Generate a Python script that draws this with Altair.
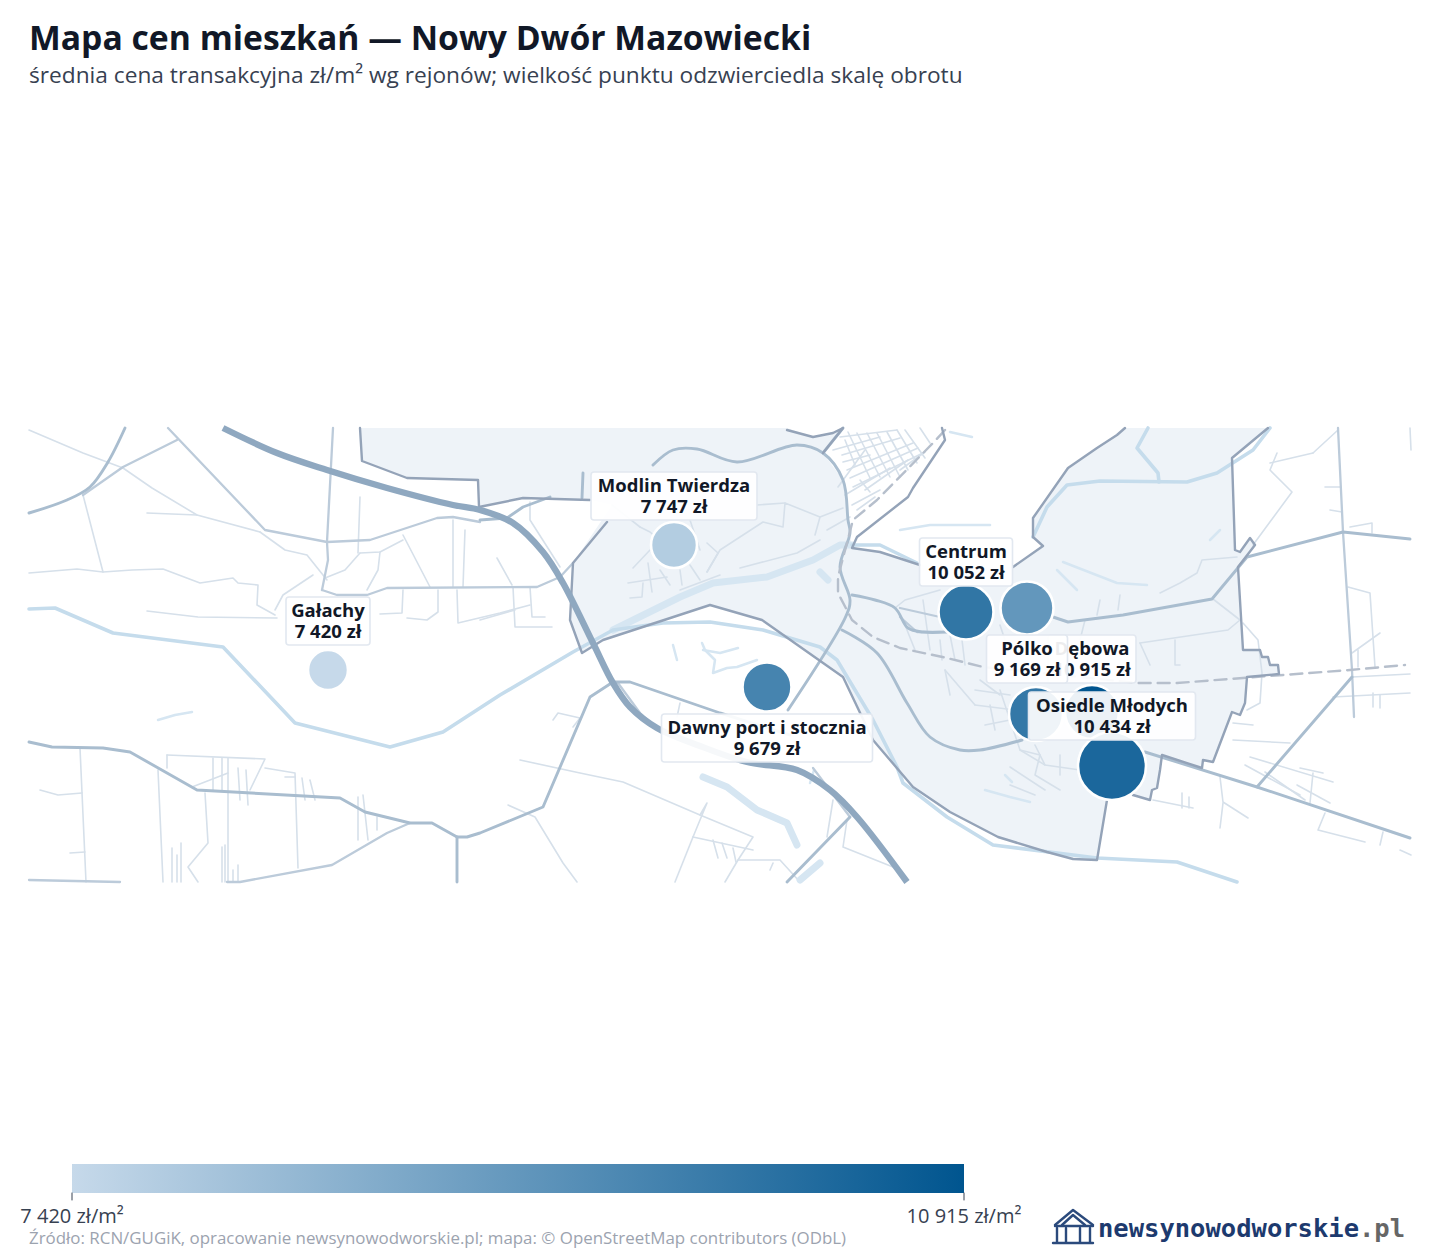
import altair as alt
import pandas as pd

TITLE = "Mapa cen mieszkań — Nowy Dwór Mazowiecki"
SUBTITLE = "średnia cena transakcyjna zł/m² wg rejonów; wielkość punktu odzwierciedla skalę obrotu"
SOURCE = "Źródło: RCN/GUGiK, opracowanie newsynowodworskie.pl; mapa: © OpenStreetMap contributors (ODbL)"
FONT = "Open Sans"

# districts: drawn in order, so later labels sit on top of earlier ones
names = ["", "Gałachy", "Modlin Twierdza", "Dawny port i stocznia", "Centrum", "Dębowa", "Pólko", "Osiedle Młodych"]
prices = [10000, 7420, 7747, 9679, 10052, 10915, 9169, 10434]
point_x = [1036, 328, 674, 767, 966, 1092, 1027, 1112]
point_y = [714, 670, 545, 687, 612, 712, 608, 766]
point_d = [54, 40, 46, 49, 55, 54, 53, 68]
label_y = [0, 621, 496, 738, 562, 659, 659, 716]
label_w = [0, 84, 166, 211, 93, 88, 81, 167]

# map geometry in map units
district = [(360, 428), (787, 428), (813, 437), (833, 433), (842, 428), (823, 453), (843, 480), (848, 520), (852, 548),
            (880, 552), (920, 565), (1013, 567), (1043, 546), (1033, 537), (1033, 518), (1068, 468), (1097, 448),
            (1117, 435), (1125, 428), (1268, 428), (1232, 458), (1235, 550), (1240, 552), (1250, 538), (1255, 545),
            (1238, 567), (1243, 650), (1260, 650), (1262, 657), (1268, 657), (1270, 665), (1278, 665), (1279, 674),
            (1247, 677), (1245, 703), (1240, 715), (1232, 712), (1213, 762), (1203, 760), (1202, 768), (1162, 755),
            (1160, 770), (1157, 788), (1152, 790), (1150, 800), (1133, 795), (1107, 800), (1097, 860), (1073, 859),
            (1047, 852), (998, 837), (950, 812), (913, 787), (873, 740), (843, 677), (762, 620), (710, 605), (603, 640),
            (582, 653), (570, 620), (573, 563), (612, 505), (590, 500), (523, 498), (479, 507), (478, 480), (407, 478),
            (362, 461)]

boundary = [
    [(360, 428), (362, 461), (407, 478), (478, 480), (479, 507), (523, 498), (590, 500)],
    [(607, 522), (573, 563), (570, 620), (582, 653), (603, 640), (710, 605), (762, 620), (843, 677), (873, 740),
     (913, 787), (950, 812), (998, 837), (1047, 852), (1073, 859), (1097, 860), (1107, 800)],
    [(1133, 795), (1150, 800), (1152, 790), (1157, 788), (1160, 770), (1162, 755), (1202, 768), (1203, 760), (1213, 762),
     (1232, 712), (1240, 715), (1245, 703), (1247, 677), (1279, 674), (1278, 665), (1270, 665), (1268, 657), (1262, 657),
     (1260, 650), (1243, 650), (1238, 567), (1255, 545), (1250, 538), (1240, 552), (1235, 550), (1232, 458), (1268, 428)],
    [(1125, 428), (1117, 435), (1097, 448), (1068, 468), (1033, 518), (1033, 537), (1043, 546), (1013, 567)],
    [(920, 565), (880, 552), (852, 548), (857, 537), (908, 497), (913, 488), (945, 440), (942, 428)],
    [(787, 430), (813, 437), (833, 433), (843, 428), (823, 453)],
]

rivers = [
    [(29, 609), (55, 608), (113, 633), (223, 647), (295, 723), (390, 747), (443, 732), (500, 695), (573, 652),
     (613, 630), (663, 623), (710, 622), (763, 630), (820, 647), (837, 660), (873, 720), (897, 767), (903, 783),
     (947, 817), (993, 845), (1097, 858), (1177, 862), (1237, 882)],
    [(1033, 537), (1047, 507), (1067, 485), (1100, 481), (1187, 482), (1217, 473), (1253, 450), (1270, 428)],
    [(1148, 428), (1137, 448), (1158, 473), (1159, 482)],
    [(852, 545), (880, 545), (917, 563)],
]
river_wide = [
    [(613, 630), (680, 597), (713, 583), (767, 577), (813, 560), (840, 545), (852, 545)],
    [(703, 777), (727, 787), (757, 810), (787, 823), (797, 845)],
    [(820, 863), (800, 880)],
    [(820, 572), (828, 580)],
]
streams = [
    [(1057, 570), (1077, 590)], [(1063, 562), (1117, 583), (1147, 585)],
    [(702, 643), (705, 650), (715, 660), (713, 673), (727, 668), (737, 667), (757, 660)],
    [(703, 650), (720, 653), (738, 648)], [(673, 645), (677, 660)], [(950, 432), (972, 437)],
    [(158, 720), (175, 715), (192, 712)], [(1210, 540), (1220, 530)], [(1005, 775), (1012, 782)],
    [(985, 790), (1010, 797), (1030, 802)], [(900, 530), (930, 525), (990, 525)],
    [(810, 783), (814, 770)],
]

motorway = [
    [(223, 428), (277, 453), (327, 470), (387, 488), (453, 505), (480, 510), (513, 523), (543, 552), (563, 583),
     (593, 643), (613, 683), (630, 707), (657, 728), (700, 746), (747, 762), (797, 770), (830, 790), (857, 817), (907, 882)],
]
main_roads = [
    [(29, 742), (52, 747), (103, 748), (130, 752), (197, 790), (340, 798), (365, 812), (410, 823), (432, 823),
     (457, 837), (467, 837), (480, 833), (543, 807), (590, 697), (613, 682), (630, 682), (720, 713), (790, 735)],
    [(457, 837), (457, 882)],
    [(1145, 752), (1257, 787), (1410, 838)],
    [(1053, 617), (1068, 622), (1123, 615), (1212, 599), (1247, 557), (1343, 532), (1410, 539)],
    [(480, 520), (507, 518), (523, 507), (550, 497)],
    [(583, 473), (582, 498)],
    [(850, 817), (787, 882)],
    [(1257, 787), (1352, 677)],
    [(823, 453), (843, 428)],
]
curved_roads = [
    [(29, 513), (67, 500), (90, 487), (108, 462), (125, 428)],
    [(653, 465), (673, 450), (697, 449), (737, 462), (797, 445), (823, 453), (843, 480), (848, 520), (850, 533),
     (840, 567), (850, 600), (846, 616), (788, 710)],
    [(852, 595), (875, 600), (895, 608), (908, 628), (923, 632), (947, 632)],
    [(842, 630), (877, 653), (907, 703), (930, 737), (960, 750), (980, 750), (1022, 740)],
]
minor_roads = [
    [(168, 428), (265, 530), (327, 542), (370, 540), (437, 518), (453, 517), (480, 522)],
    [(333, 428), (327, 542), (328, 560), (322, 590)],
    [(322, 590), (337, 595), (367, 595), (387, 588), (537, 587), (560, 577), (573, 563)],
    [(83, 495), (123, 467), (177, 440)],
    [(227, 882), (240, 882), (332, 865), (387, 833), (410, 823)],
    [(29, 880), (120, 882)],
    [(1338, 428), (1343, 532), (1352, 670), (1354, 717)],
    [(618, 683), (640, 713), (657, 728)],
    [(900, 608), (940, 617)], [(900, 617), (917, 632), (940, 632)],
    [(813, 768), (850, 817)],
]
streets = [
    [(29, 430), (83, 453), (123, 468), (152, 488), (197, 515), (260, 532)],
    [(83, 495), (103, 572)],
    [(29, 573), (77, 569), (103, 572), (132, 570), (163, 569), (200, 583), (233, 578), (238, 583), (258, 585), (257, 605), (275, 615)],
    [(147, 611), (198, 617), (277, 618)],
    [(275, 610), (283, 595), (313, 575)],
    [(147, 513), (197, 515)], [(260, 532), (285, 550), (307, 555), (327, 580)],
    [(360, 553), (380, 552), (403, 540)], [(380, 552), (378, 570), (367, 590)], [(360, 553), (345, 570), (325, 578)],
    [(403, 535), (430, 587)], [(453, 520), (453, 587)], [(465, 530), (463, 587)], [(360, 497), (358, 553)],
    [(403, 590), (402, 613), (380, 614)], [(438, 590), (438, 612), (427, 620), (407, 618)],
    [(457, 590), (458, 623), (500, 613), (530, 605)],
    [(80, 748), (86, 882)], [(158, 770), (163, 882)], [(167, 755), (167, 768)], [(167, 755), (265, 759), (250, 790)],
    [(265, 768), (295, 773), (298, 868)],
    [(213, 758), (213, 790)], [(222, 758), (222, 790)], [(228, 758), (228, 882)], [(238, 768), (240, 800)], [(246, 770), (248, 805)],
    [(205, 793), (208, 843), (188, 867), (198, 882)],
    [(172, 848), (172, 882)], [(177, 855), (177, 882)], [(181, 843), (181, 882)], [(222, 847), (222, 882)], [(225, 845), (225, 882)], [(233, 870), (233, 882)], [(238, 865), (238, 882)],
    [(358, 797), (358, 840)], [(363, 795), (368, 840)], [(377, 817), (377, 830)],
    [(40, 790), (58, 795), (82, 793)], [(192, 787), (228, 773)], [(70, 853), (85, 852)],
    [(302, 778), (305, 800)], [(285, 777), (295, 777)], [(310, 780), (315, 800)],
    [(520, 760), (580, 773), (623, 782), (700, 815), (753, 837), (738, 860), (725, 882)],
    [(693, 837), (707, 803), (700, 815)], [(693, 837), (753, 850)], [(693, 837), (675, 882)],
    [(508, 805), (535, 817), (563, 863), (577, 882)],
    [(553, 720), (558, 713), (580, 718), (573, 727)],
    [(680, 703), (677, 717)], [(833, 800), (827, 837)], [(847, 820), (843, 847), (893, 867)], [(773, 863), (770, 870)],
    [(800, 882), (780, 860), (738, 860)], [(713, 840), (718, 858)], [(722, 843), (727, 858)], [(733, 848), (736, 862)],
    # Modlin
    [(530, 502), (530, 520), (560, 567)], [(497, 558), (512, 585)], [(513, 587), (515, 627), (552, 627)],
    [(530, 587), (532, 617), (545, 617)], [(480, 620), (515, 610)],
    [(633, 568), (650, 550)], [(628, 583), (667, 577)], [(643, 583), (642, 597), (630, 598)], [(648, 563), (652, 592)],
    [(680, 570), (682, 585)], [(640, 527), (650, 532), (665, 545)], [(690, 520), (700, 550)], [(707, 543), (718, 553), (707, 572)],
    [(707, 572), (720, 550), (763, 522), (783, 527), (785, 503), (820, 517), (843, 508)], [(757, 505), (785, 503)],
    [(740, 568), (797, 553), (820, 540)], [(827, 530), (850, 517)], [(820, 517), (815, 535)], [(680, 590), (720, 575)],
    [(612, 505), (640, 527)], [(660, 570), (670, 585)], [(690, 565), (700, 580)],
    # town north of the river
    [(833, 450), (880, 437)], [(847, 470), (913, 443)], [(853, 487), (923, 453)], [(840, 437), (897, 430)],
    [(857, 433), (880, 477)], [(877, 433), (900, 477)], [(897, 430), (917, 463)], [(920, 428), (930, 443)],
    [(838, 487), (865, 450)], [(852, 505), (880, 490)], [(865, 490), (908, 460)], [(843, 462), (870, 455)],
    [(857, 510), (875, 497)], [(900, 470), (925, 452)], [(845, 440), (855, 465)],
    [(842, 455), (900, 438)], [(850, 478), (918, 448)], [(867, 433), (890, 477)], [(887, 432), (908, 470)],
    [(848, 432), (870, 478)], [(845, 495), (890, 468)], [(905, 430), (925, 458)], [(860, 480), (870, 492)],
    # town south of the river
    [(895, 608), (905, 600), (940, 590)], [(923, 600), (930, 650)], [(905, 625), (915, 650)], [(962, 640), (965, 665)],
    [(945, 670), (975, 705)], [(945, 670), (950, 695)], [(975, 690), (1010, 695)], [(975, 705), (1015, 710)],
    [(1000, 690), (1020, 750), (1045, 765), (1080, 770)], [(985, 725), (1010, 720)], [(1040, 755), (1035, 775), (1060, 790)],
    [(1020, 750), (1040, 755)], [(1045, 765), (1035, 745)], [(1010, 767), (1045, 790)], [(1000, 625), (1005, 640)],
    [(1010, 785), (1035, 795)], [(1060, 755), (1060, 775)], [(940, 640), (942, 660)], [(950, 635), (955, 660)],
    [(980, 680), (1000, 695)], [(990, 705), (995, 730)],
    # east
    [(1140, 643), (1228, 630), (1240, 620), (1213, 599)], [(1160, 593), (1180, 583), (1197, 573), (1202, 560), (1237, 557)],
    [(1120, 595), (1118, 610)], [(1100, 600), (1097, 615)], [(1175, 640), (1175, 665), (1180, 665)], [(1140, 643), (1150, 665)],
    [(1085, 620), (1080, 640)], [(1243, 623), (1258, 640), (1262, 673), (1260, 703), (1247, 710)],
    [(1313, 453), (1270, 463)], [(1277, 453), (1270, 470), (1292, 492), (1253, 545)], [(1313, 453), (1338, 430)],
    [(1325, 487), (1340, 487)], [(1330, 510), (1342, 512)], [(1350, 527), (1372, 523), (1372, 533)],
    [(1348, 587), (1370, 593), (1375, 667)], [(1380, 633), (1352, 653)], [(1358, 650), (1358, 667)],
    [(1352, 677), (1410, 674)], [(1333, 697), (1410, 693)], [(1373, 693), (1373, 707)], [(1380, 695), (1380, 708)],
    [(1250, 757), (1333, 782)], [(1300, 768), (1323, 773)], [(1313, 773), (1310, 803)], [(1297, 785), (1330, 803)],
    [(1233, 740), (1290, 743)], [(1233, 723), (1253, 725)], [(1325, 813), (1318, 830), (1365, 842)], [(1383, 832), (1380, 845)],
    [(1220, 777), (1223, 802), (1248, 818)], [(1223, 803), (1220, 828)], [(1153, 800), (1193, 808)], [(1182, 793), (1182, 808)],
    [(1189, 797), (1189, 808)], [(1400, 850), (1411, 855)], [(1245, 765), (1300, 795)], [(1265, 772), (1305, 800)],
    [(1410, 428), (1411, 450)],
]
railway = [
    [(945, 430), (933, 443), (877, 500), (853, 520), (838, 577), (838, 593), (852, 620), (873, 637), (900, 648),
     (947, 658), (983, 667), (1138, 683), (1177, 683), (1243, 678), (1350, 670), (1405, 665)],
]

# colour bar and logo
bar_prices = [7420, 10915]
bar_labels = ["7 420 zł/m²", "10 915 zł/m²"]
bar_x = [72, 964]
house = [
    [(1055, 1225), (1073, 1210), (1093, 1225)], [(1062, 1225), (1073, 1215), (1085, 1225)], [(1055, 1226), (1093, 1226)],
    [(1057, 1228), (1057, 1242)], [(1066, 1228), (1066, 1242)], [(1080, 1228), (1080, 1242)], [(1090, 1228), (1090, 1242)],
    [(1053, 1243), (1093, 1243)],
]

x_scale = alt.Scale(domain=[8, 1432], nice=False, zero=False)
y_scale = alt.Scale(domain=[1252, 92], nice=False, zero=False)
X = alt.X("x:Q", scale=x_scale, axis=None)
Y = alt.Y("y:Q", scale=y_scale, axis=None)


def lines_frame(lines):
    rows = []
    for i, line in enumerate(lines):
        for j, (px, py) in enumerate(line):
            rows.append({"id": i, "seq": j, "x": px, "y": py})
    return pd.DataFrame(rows)


def line_layer(lines, color, width, cap="round", **kwargs):
    return (
        alt.Chart(lines_frame(lines))
        .mark_line(stroke=color, strokeWidth=width, strokeCap=cap, strokeJoin="round", **kwargs)
        .encode(x=X, y=Y, detail="id:N", order="seq:Q")
    )


def text_layer(rows, font_size, color, weight="normal", align="center", font=FONT, **kwargs):
    return (
        alt.Chart(pd.DataFrame(rows))
        .mark_text(font=font, fontSize=font_size, color=color, fontWeight=weight, align=align, baseline="middle", **kwargs)
        .encode(x=X, y=Y, text="t:N")
    )


def fmt_price(v):
    return f"{v:,}".replace(",", " ") + " zł"


layers = [
    alt.Chart(lines_frame([district + district[:1]]))
    .mark_line(fill="#eef3f8", stroke="#eef3f8", strokeWidth=0)
    .encode(x=X, y=Y, order="seq:Q"),
    line_layer(streets, "#d6e0ea", 1.6),
    line_layer(river_wide, "#d6e6f2", 7),
    line_layer(streams, "#d6e6f2", 2.5),
    line_layer(rivers, "#c5dcec", 3.6),
    line_layer(minor_roads, "#bccbda", 2.3),
    line_layer(main_roads, "#a9bdcf", 2.9),
    line_layer(curved_roads, "#a9bdcf", 2.9, interpolate="catmull-rom"),
    line_layer(railway, "#b6bfcc", 2.4, strokeDash=[12, 7]),
    line_layer(boundary, "#94a3b8", 2.4),
    line_layer(motorway, "#8fa8c0", 6.4, cap="butt", interpolate="catmull-rom"),
]

points = pd.DataFrame({"name": names, "price": prices, "x": point_x, "y": point_y,
                       "size": [d * d for d in point_d]})
layers.append(
    alt.Chart(points)
    .mark_point(filled=True, opacity=1, stroke="white", strokeWidth=2.6)
    .encode(
        x=X,
        y=Y,
        size=alt.Size("size:Q", scale=None),
        color=alt.Color("price:Q", legend=None,
                        scale=alt.Scale(domain=bar_prices, range=["#c6d9ea", "#00558f"], interpolate="rgb")),
        tooltip=["name", "price"],
    )
)

# label boxes, each with its own text so a later box covers an earlier one
for n, p, px, ly, w in zip(names, prices, point_x, label_y, label_w):
    if not n:
        continue
    box = pd.DataFrame([{"x": px - w / 2, "x2": px + w / 2, "y": ly - 24, "y2": ly + 24}])
    layers.append(
        alt.Chart(box)
        .mark_rect(fill="white", fillOpacity=0.92, stroke="#e2e8f0", strokeWidth=1.6, cornerRadius=3)
        .encode(x=X, x2="x2:Q", y=Y, y2="y2:Q")
    )
    # y of a two-line text is the middle of its first line
    layers.append(text_layer([{"x": px, "y": ly - 10.5, "t": n + "\n" + fmt_price(p)}],
                             18.5, "#111827", "bold", lineBreak="\n", lineHeight=21))

# colour bar
layers.append(
    alt.Chart(pd.DataFrame([{"x": bar_x[0], "x2": bar_x[1], "y": 1164, "y2": 1193}]))
    .mark_rect(fill=alt.Gradient(gradient="linear", x1=0, x2=1, y1=0, y2=0,
                                 stops=[alt.GradientStop(color="#c6d9ea", offset=0),
                                        alt.GradientStop(color="#00558f", offset=1)]))
    .encode(x=X, x2="x2:Q", y=Y, y2="y2:Q")
)
layers.append(line_layer([[(bar_x[0], 1193), (bar_x[0], 1200)], [(bar_x[1], 1193), (bar_x[1], 1200)]], "#374151", 1))
layers.append(text_layer([{"x": bar_x[0], "y": 1217, "t": bar_labels[0]},
                          {"x": bar_x[1], "y": 1217, "t": bar_labels[1]}], 20, "#374151"))
layers.append(text_layer([{"x": 29, "y": 1239, "t": SOURCE}], 16.9, "#9ca3af", align="left"))

# logo
layers.append(line_layer(house, "#2b4a7c", 2.4))
layers.append(text_layer([{"x": 1098, "y": 1229, "t": "newsynowodworskie"}], 25.5, "#1d3a6e", "bold", align="left", font="DejaVu Sans Mono"))
layers.append(text_layer([{"x": 1359, "y": 1229, "t": ".pl"}], 25.5, "#666666", "bold", align="left", font="DejaVu Sans Mono"))

chart = (
    alt.layer(*layers)
    .properties(
        width=1424,
        height=1160,
        padding={"left": 0, "right": 0, "top": 15, "bottom": 0},
        title=alt.TitleParams(
            TITLE,
            subtitle=SUBTITLE,
            anchor="start",
            dx=21,
            offset=4.5,
            font=FONT,
            fontSize=33.7,
            fontWeight="bold",
            color="#111827",
            subtitleFont=FONT,
            subtitleFontSize=22.7,
            subtitleColor="#374151",
            subtitlePadding=8,
        ),
    )
    .configure_view(stroke=None)
)

chart.save("out.html", embed_options={"renderer": "svg", "actions": False})
